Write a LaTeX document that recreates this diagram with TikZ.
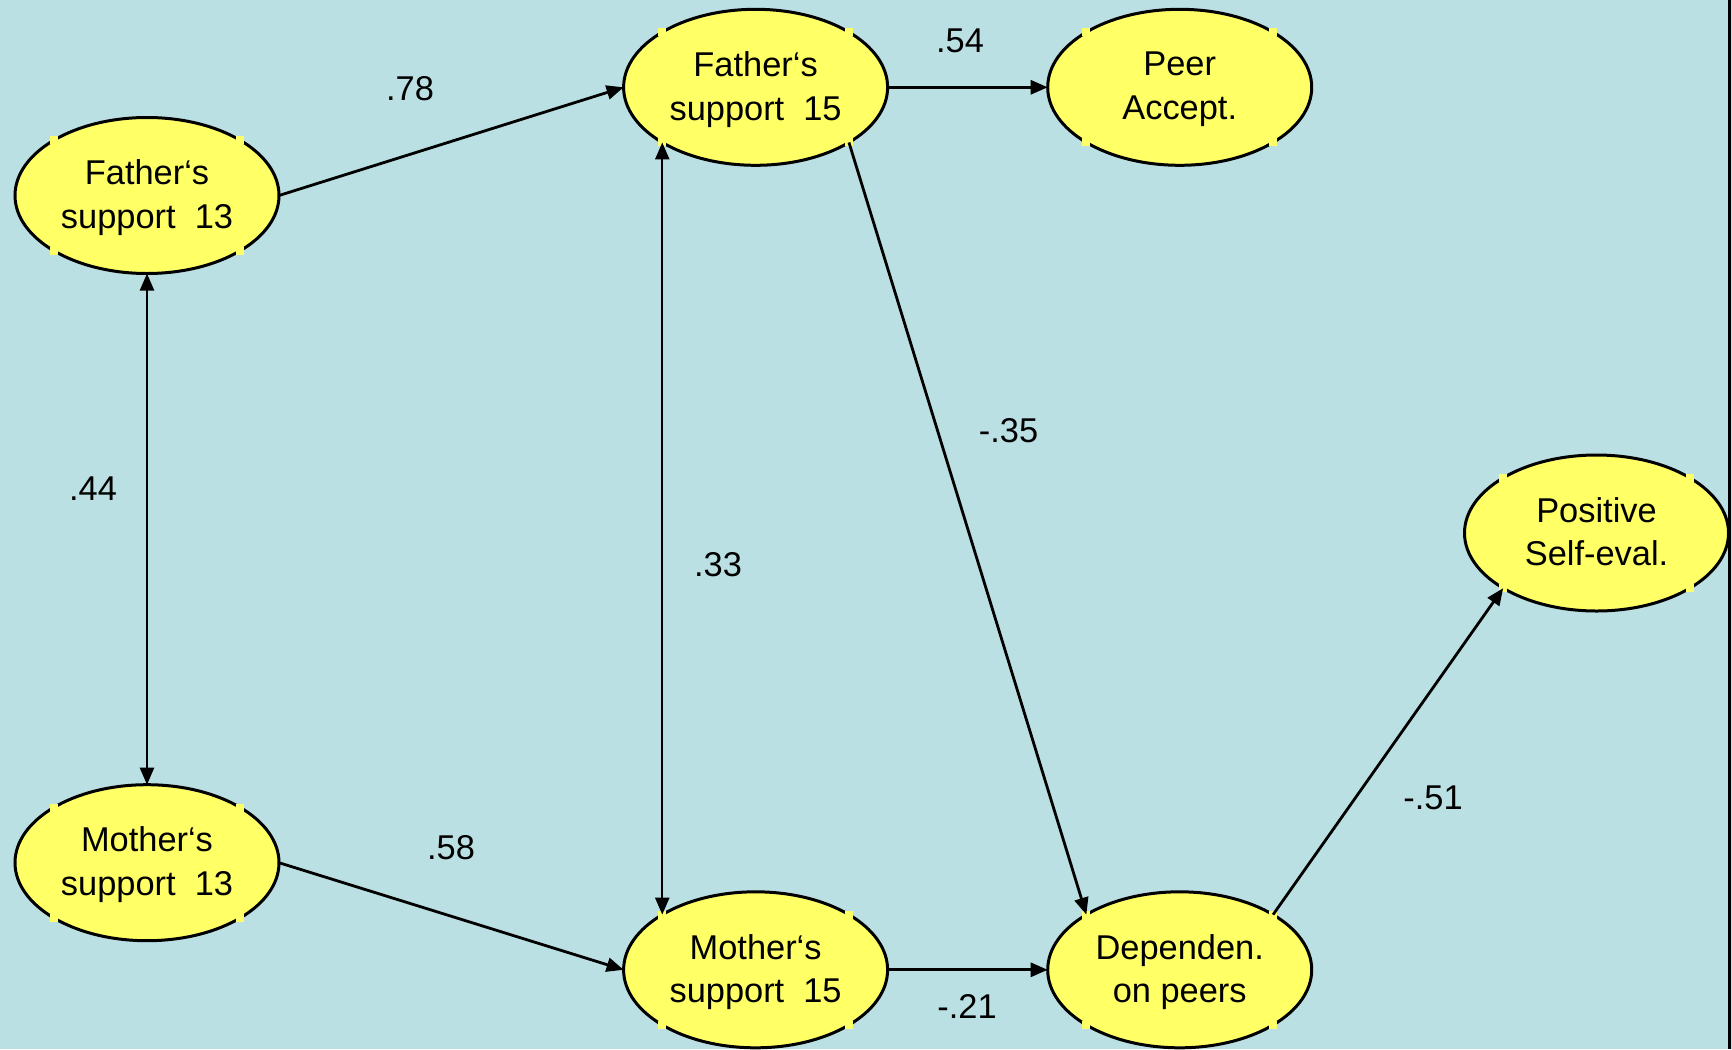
\documentclass[tikz,border=0pt]{standalone}
\usepackage{fontspec}
\setmainfont{Liberation Sans}
\usetikzlibrary{arrows.meta,shapes.geometric}
\definecolor{bgc}{RGB}{187,224,227}
\definecolor{ellc}{RGB}{255,255,102}
\tikzset{
  var/.style={ellipse, draw=black, line width=1.5pt, fill=ellc, minimum width=132pt, minimum height=78pt, inner sep=0pt, outer sep=0pt, align=center, text depth=1.4pt, font=\fontsize{17.2}{21.8}\selectfont},
  coef/.style={inner sep=0pt, font=\fontsize{17.2}{21.8}\selectfont},
  path/.style={line width=1.4pt, -{Triangle[length=8.5pt,width=7pt]}},
  cov/.style={line width=1.2pt, {Triangle[length=8.5pt,width=7pt]}-{Triangle[length=8.5pt,width=7pt]}}
}
\begin{document}
\begin{tikzpicture}[x=0.5pt,y=-0.5pt]
\fill[bgc] (0,0) rectangle (1732,1049);
\useasboundingbox (0,0) rectangle (1732,1049);
\node[var] (f13) at (147,195.5) {Father‘s\\support~~13};
\node[var] (m13) at (147,862.7) {Mother‘s\\support~~13};
\node[var] (f15) at (755.6,87.3) {Father‘s\\support~~15};
\node[var] (m15) at (755.6,969.8) {Mother‘s\\support~~15};
\node[var] (peer) at (1179.7,87.3) {Peer\\Accept.};
\node[var] (dep) at (1179.7,969.8) {Dependen.\\on peers};
\node[var] (pos) at (1596.5,533) {Positive\\Self-eval.};
\foreach \n in {f13,m13,f15,m15,peer,dep,pos}
  \foreach \a in {north east,north west,south east,south west}
    \fill[ellc] (\n.\a) ++(-4,-4) rectangle ++(8,8);
\draw[path] (f13.east) -- (f15.west);
\draw[path] (m13.east) -- (m15.west);
\draw[path] (f15.east) -- (peer.west);
\draw[path] (m15.east) -- (dep.west);
\draw[path] (f15.south east) -- (dep.north west);
\draw[path] (dep.north east) -- (pos.south west);
\draw[cov] (f13.south) -- (m13.north);
\draw[cov] (f15.south west) -- (m15.north west);
\node[coef] (l78) at (410,89) {.78};
\node[coef] (l54) at (960,41) {.54};
\node[coef] (l35) at (1008.5,431) {-.35};
\node[coef] (l44) at (93,489) {.44};
\node[coef] (l33) at (718,564.5) {.33};
\node[coef] (l58) at (451,848) {.58};
\node[coef] (l21) at (967,1006) {-.21};
\node[coef] (l51) at (1433,797.5) {-.51};
\draw[line width=1.5pt] (1729,0) -- (1729,1049);
\end{tikzpicture}
\end{document}
